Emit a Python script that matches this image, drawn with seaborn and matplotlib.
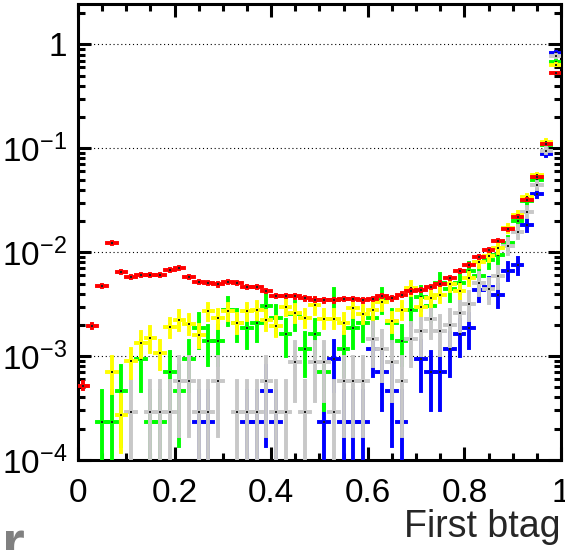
import numpy as np
import pandas as pd
import matplotlib
matplotlib.use("Agg")
import matplotlib.pyplot as plt
import matplotlib.ticker as mticker
import seaborn as sns

nan = np.nan

# 50 equal bins of the b-tag discriminant between 0 and 1
bin_edges = np.linspace(0.0, 1.0, 51)
bin_centres = 0.5 * (bin_edges[:-1] + bin_edges[1:])
half_width = 0.5 * (bin_edges[1] - bin_edges[0])

# normalised bin contents and their uncertainties, one pair of lists per sample
red_vals = [5.2e-4, 1.95e-3, 4.7e-3, 1.23e-2, 6.5e-3, 5.8e-3, 6.0e-3, 6.0e-3, 6.0e-3, 6.7e-3,
            7.1e-3, 5.75e-3, 5.15e-3, 5.05e-3, 4.9e-3, 5.15e-3, 5.05e-3, 4.6e-3, 4.6e-3, 4.25e-3,
            3.8e-3, 3.8e-3, 3.75e-3, 3.6e-3, 3.5e-3, 3.45e-3, 3.45e-3, 3.55e-3, 3.55e-3, 3.45e-3,
            3.55e-3, 3.8e-3, 3.6e-3, 3.9e-3, 4.2e-3, 4.3e-3, 4.6e-3, 5.0e-3, 5.6e-3, 6.6e-3,
            7.55e-3, 8.95e-3, 1.05e-2, 1.29e-2, 1.66e-2, 2.19e-2, 3.2e-2, 5.3e-2, 0.11, 0.53]
red_errs = [4e-5, 8e-5, 1.2e-4, 1.9e-4, 1.4e-4, 1.3e-4, 1.3e-4, 1.3e-4, 1.3e-4, 1.4e-4,
            1.5e-4, 1.3e-4, 1.2e-4, 1.2e-4, 1.2e-4, 1.2e-4, 1.2e-4, 1.2e-4, 1.2e-4, 1.1e-4,
            1.1e-4, 1.1e-4, 1.1e-4, 1.0e-4, 1.0e-4, 1.0e-4, 1.0e-4, 1.0e-4, 1.0e-4, 1.0e-4,
            1.0e-4, 1.1e-4, 1.0e-4, 1.1e-4, 1.1e-4, 1.1e-4, 1.2e-4, 1.2e-4, 1.3e-4, 1.4e-4,
            1.5e-4, 1.6e-4, 1.8e-4, 2.0e-4, 2.2e-4, 2.6e-4, 3.1e-4, 4.0e-4, 5.7e-4, 1.3e-3]

yellow_vals = [nan, nan, nan, 7.1e-4, 2.7e-4, 9.0e-4, 1.34e-3, 1.5e-3, 1.07e-3, 1.9e-3,
               2.25e-3, 2.06e-3, 1.61e-3, 2.7e-3, 2.33e-3, 2.7e-3, 2.09e-3, 2.7e-3, 2.8e-3, 2.25e-3,
               1.97e-3, 3.0e-3, 2.6e-3, 2.35e-3, 3.1e-3, 2.3e-3, 2.3e-3, 2.1e-3, 2.9e-3, 2.55e-3,
               2.8e-3, 3.3e-3, 2.16e-3, 2.8e-3, 4.5e-3, 3.0e-3, 3.6e-3, 3.9e-3, 4.9e-3, 4.2e-3,
               5.6e-3, 8.0e-3, 9.2e-3, 1.09e-2, 1.7e-2, 2.3e-2, 3.4e-2, 5.5e-2, 0.116, 0.64]
yellow_errs = [nan, nan, nan, 2.7e-4, 1.5e-4, 2.8e-4, 3.6e-4, 4.0e-4, 3.2e-4, 3.8e-4,
               4.5e-4, 4.3e-4, 3.8e-4, 4.9e-4, 4.6e-4, 4.9e-4, 4.3e-4, 4.9e-4, 5.0e-4, 4.5e-4,
               4.2e-4, 5.2e-4, 4.8e-4, 4.6e-4, 5.3e-4, 4.5e-4, 4.5e-4, 4.3e-4, 5.1e-4, 4.8e-4,
               5.0e-4, 5.4e-4, 4.4e-4, 5.0e-4, 6.4e-4, 5.2e-4, 5.7e-4, 5.9e-4, 6.6e-4, 6.1e-4,
               7.1e-4, 8.5e-4, 9.1e-4, 9.9e-4, 1.2e-3, 1.4e-3, 1.7e-3, 2.2e-3, 3.2e-3, 7.6e-3]

green_vals = [nan, nan, 2.33e-4, 2.33e-4, 4.66e-4, nan, 9.3e-4, 2.33e-4, 2.33e-4, 7.0e-4,
              4.66e-4, 9.3e-4, 1.86e-3, 1.4e-3, 1.4e-3, 2.8e-3, 2.1e-3, 1.86e-3, 2.1e-3, 3.03e-3,
              2.33e-3, 1.63e-3, 2.56e-3, 1.16e-3, 1.63e-3, 7.0e-4, 3.5e-3, 1.16e-3, 1.86e-3, 2.1e-3,
              2.33e-3, 3.5e-3, 2.1e-3, 1.4e-3, 2.8e-3, 3.7e-3, 3.03e-3, 5.1e-3, 4.4e-3, 5.1e-3,
              6.6e-3, 5.9e-3, 8.4e-3, 9.4e-3, 1.24e-2, 2.0e-2, 3.1e-2, 5.0e-2, 0.108, 0.68]
green_errs = [nan, nan, 2.33e-4, 2.33e-4, 3.3e-4, nan, 4.66e-4, 2.33e-4, 2.33e-4, 4.0e-4,
              3.3e-4, 4.66e-4, 6.6e-4, 5.7e-4, 5.7e-4, 8.1e-4, 7.0e-4, 6.6e-4, 7.0e-4, 8.4e-4,
              7.4e-4, 6.2e-4, 7.7e-4, 5.2e-4, 6.2e-4, 4.0e-4, 9.0e-4, 5.2e-4, 6.6e-4, 7.0e-4,
              7.4e-4, 9.0e-4, 7.0e-4, 5.7e-4, 8.1e-4, 9.3e-4, 8.4e-4, 1.09e-3, 1.01e-3, 1.09e-3,
              1.24e-3, 1.17e-3, 1.4e-3, 1.48e-3, 1.7e-3, 2.16e-3, 2.7e-3, 3.4e-3, 5.0e-3, 1.26e-2]

grey_vals = [nan, nan, nan, nan, nan, 2.9e-4, nan, 2.9e-4, 2.9e-4, 2.9e-4,
             5.8e-4, 5.8e-4, 2.9e-4, 2.9e-4, 5.8e-4, nan, 2.9e-4, 2.9e-4, 2.9e-4, 5.8e-4,
             2.9e-4, 2.9e-4, 8.7e-4, 2.9e-4, 8.7e-4, 8.7e-4, 2.9e-4, 5.8e-4, 5.8e-4, 5.8e-4,
             1.45e-3, 1.16e-3, 8.7e-4, 5.8e-4, 1.45e-3, 1.74e-3, 2.3e-3, 1.74e-3, 2.0e-3, 2.6e-3,
             3.2e-3, 5.05e-3, 4.4e-3, 5.85e-3, 1.15e-2, 1.58e-2, 2.45e-2, 4.4e-2, 0.095, 0.77]
grey_errs = [nan, nan, nan, nan, nan, 2.9e-4, nan, 2.9e-4, 2.9e-4, 2.9e-4,
             4.1e-4, 4.1e-4, 2.9e-4, 2.9e-4, 4.1e-4, nan, 2.9e-4, 2.9e-4, 2.9e-4, 4.1e-4,
             2.9e-4, 2.9e-4, 5.0e-4, 2.9e-4, 5.0e-4, 5.0e-4, 2.9e-4, 4.1e-4, 4.1e-4, 4.1e-4,
             6.5e-4, 5.8e-4, 5.0e-4, 4.1e-4, 6.5e-4, 7.1e-4, 8.2e-4, 7.1e-4, 7.6e-4, 8.7e-4,
             9.6e-4, 1.21e-3, 1.13e-3, 1.3e-3, 1.83e-3, 2.14e-3, 2.67e-3, 3.57e-3, 5.2e-3, 1.5e-2]

blue_vals = [nan, nan, nan, nan, nan, nan, nan, nan, nan, nan,
             nan, nan, 2.33e-4, 2.33e-4, nan, nan, nan, 2.33e-4, 2.33e-4, 4.66e-4,
             2.33e-4, nan, nan, nan, nan, 2.33e-4, 9.3e-4, 2.33e-4, 2.33e-4, 2.33e-4,
             1.16e-3, 7.0e-4, 4.66e-4, 2.33e-4, nan, 9.3e-4, 7.0e-4, 7.0e-4, 1.16e-3, 1.63e-3,
             1.86e-3, 4.37e-3, 4.67e-3, 3.9e-3, 6.6e-3, 7.55e-3, 1.82e-2, 3.67e-2, 0.088, 0.83]
blue_errs = [nan, nan, nan, nan, nan, nan, nan, nan, nan, nan,
             nan, nan, 2.33e-4, 2.33e-4, nan, nan, nan, 2.33e-4, 2.33e-4, 3.3e-4,
             2.33e-4, nan, nan, nan, nan, 2.33e-4, 4.66e-4, 2.33e-4, 2.33e-4, 2.33e-4,
             5.2e-4, 4.0e-4, 3.3e-4, 2.33e-4, nan, 4.66e-4, 4.0e-4, 4.0e-4, 5.2e-4, 6.2e-4,
             6.6e-4, 1.0e-3, 1.04e-3, 9.5e-4, 1.24e-3, 1.33e-3, 2.06e-3, 2.92e-3, 4.5e-3, 1.4e-2]

# drawing order: first entry at the bottom
samples = ["blue", "green", "grey", "yellow", "red"]
colours = {"blue": "#0000ff", "green": "#00ff00", "grey": "#c8c8c8",
           "yellow": "#ffff00", "red": "#ff0000"}
values = {"blue": blue_vals, "green": green_vals, "grey": grey_vals,
          "yellow": yellow_vals, "red": red_vals}
errors = {"blue": blue_errs, "green": green_errs, "grey": grey_errs,
          "yellow": yellow_errs, "red": red_errs}

frames = []
for s in samples:
    frames.append(pd.DataFrame({"btag": bin_centres, "content": values[s],
                                "err": errors[s], "sample": s}))
hist = pd.concat(frames, ignore_index=True).dropna()

sns.set_theme(style="ticks")
plt.rcParams.update({
    "font.family": ["Liberation Sans", "DejaVu Sans"],
    "mathtext.fontset": "custom",
    "mathtext.rm": "Liberation Sans",
    "mathtext.it": "Liberation Sans:italic",
    "mathtext.bf": "Liberation Sans:bold",
    "mathtext.default": "regular",
    "axes.edgecolor": "black",
    "axes.linewidth": 2.2,
    "xtick.color": "black",
    "ytick.color": "black",
    "text.color": "black",
})

fig = plt.figure(figsize=(5.65, 5.5), dpi=100)
fig.patch.set_facecolor("white")
ax = fig.add_axes([0.138, 0.1636, 0.8549, 0.8291])
ax.set_facecolor("white")
ax.set_yscale("log", nonpositive="clip")

for z, s in enumerate(samples):
    d = hist[hist["sample"] == s]
    eb = ax.errorbar(d["btag"], d["content"], xerr=half_width, yerr=d["err"],
                     fmt="none", ecolor=colours[s], elinewidth=2.8, capsize=0,
                     zorder=3 + 2 * z)
    for lc in eb.lines[2]:
        lc.set_capstyle("projecting")
    sns.scatterplot(data=d, x="btag", y="content", color="#202020", marker="s",
                    s=2.5, linewidth=0, ax=ax, zorder=4 + 2 * z, legend=False)

ax.set_xlim(0, 1)
ax.set_ylim(1e-4, 2.45)

ax.xaxis.set_major_locator(mticker.MultipleLocator(0.2))
ax.xaxis.set_minor_locator(mticker.MultipleLocator(0.05))
ax.xaxis.set_major_formatter(mticker.FuncFormatter(lambda v, p: f"{v:g}"))
ax.yaxis.set_major_locator(mticker.LogLocator(base=10, numticks=12))
ax.yaxis.set_minor_locator(mticker.LogLocator(base=10, subs=np.arange(2, 10), numticks=30))
ax.yaxis.set_minor_formatter(mticker.NullFormatter())


def decade_label(v, pos):
    e = int(round(np.log10(v)))
    # keep the plain "1" aligned with the mantissa of the other labels
    return r"$1\hspace{0.55}$" if e == 0 else rf"$10^{{{e}}}$"


ax.yaxis.set_major_formatter(mticker.FuncFormatter(decade_label))

ax.tick_params(which="both", direction="in", top=True, right=True, width=2.2,
               labelsize=24)
ax.tick_params(which="major", length=9.5)
ax.tick_params(which="minor", length=4.8)
ax.tick_params(axis="x", which="major", pad=13)
ax.tick_params(axis="y", which="major", pad=8)

ax.yaxis.grid(True, which="major", color="black", linewidth=0.8,
              linestyle=(0, (1, 2.5)))
ax.xaxis.grid(False)
ax.set_axisbelow(True)

ax.set_xlabel("First btag", fontsize=27, loc="right", labelpad=0)
ax.set_ylabel("")

fig.text(0.003, -0.02, "r", fontsize=42, fontweight="bold", color="#808080",
         ha="left", va="baseline")

fig.savefig("out.png", dpi=100, facecolor="white")
